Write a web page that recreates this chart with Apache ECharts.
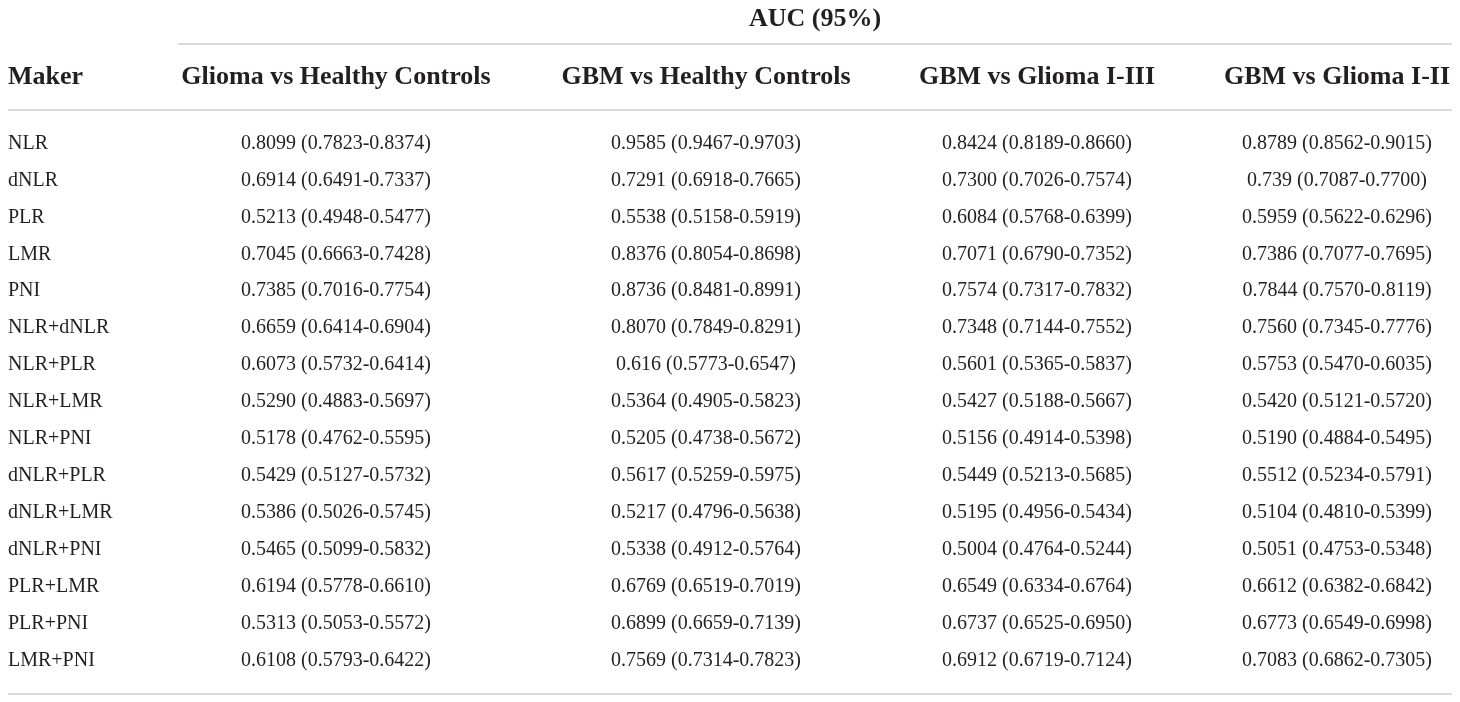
<!DOCTYPE html>
<html>
<head>
<meta charset="utf-8">
<title>AUC (95%)</title>
<script src="https://cdn.jsdelivr.net/npm/echarts@6/dist/echarts.min.js"></script>
<style>
    html, body { margin: 0; padding: 0; background: #fff; }
    #main { width: 1460px; height: 702px; }
</style>
</head>
<body>
<div id="main"></div>
<script>
// row labels
var makers = ['NLR', 'dNLR', 'PLR', 'LMR', 'PNI', 'NLR+dNLR', 'NLR+PLR', 'NLR+LMR', 'NLR+PNI',
    'dNLR+PLR', 'dNLR+LMR', 'dNLR+PNI', 'PLR+LMR', 'PLR+PNI', 'LMR+PNI'];
// column headers
var comparisons = ['Glioma vs Healthy Controls', 'GBM vs Healthy Controls', 'GBM vs Glioma I-III', 'GBM vs Glioma I-II'];

// AUC (95% CI) per column
var gliomaVsHC = ['0.8099 (0.7823-0.8374)', '0.6914 (0.6491-0.7337)', '0.5213 (0.4948-0.5477)', '0.7045 (0.6663-0.7428)',
    '0.7385 (0.7016-0.7754)', '0.6659 (0.6414-0.6904)', '0.6073 (0.5732-0.6414)', '0.5290 (0.4883-0.5697)',
    '0.5178 (0.4762-0.5595)', '0.5429 (0.5127-0.5732)', '0.5386 (0.5026-0.5745)', '0.5465 (0.5099-0.5832)',
    '0.6194 (0.5778-0.6610)', '0.5313 (0.5053-0.5572)', '0.6108 (0.5793-0.6422)'];
var gbmVsHC = ['0.9585 (0.9467-0.9703)', '0.7291 (0.6918-0.7665)', '0.5538 (0.5158-0.5919)', '0.8376 (0.8054-0.8698)',
    '0.8736 (0.8481-0.8991)', '0.8070 (0.7849-0.8291)', '0.616 (0.5773-0.6547)', '0.5364 (0.4905-0.5823)',
    '0.5205 (0.4738-0.5672)', '0.5617 (0.5259-0.5975)', '0.5217 (0.4796-0.5638)', '0.5338 (0.4912-0.5764)',
    '0.6769 (0.6519-0.7019)', '0.6899 (0.6659-0.7139)', '0.7569 (0.7314-0.7823)'];
var gbmVsG13 = ['0.8424 (0.8189-0.8660)', '0.7300 (0.7026-0.7574)', '0.6084 (0.5768-0.6399)', '0.7071 (0.6790-0.7352)',
    '0.7574 (0.7317-0.7832)', '0.7348 (0.7144-0.7552)', '0.5601 (0.5365-0.5837)', '0.5427 (0.5188-0.5667)',
    '0.5156 (0.4914-0.5398)', '0.5449 (0.5213-0.5685)', '0.5195 (0.4956-0.5434)', '0.5004 (0.4764-0.5244)',
    '0.6549 (0.6334-0.6764)', '0.6737 (0.6525-0.6950)', '0.6912 (0.6719-0.7124)'];
var gbmVsG12 = ['0.8789 (0.8562-0.9015)', '0.739 (0.7087-0.7700)', '0.5959 (0.5622-0.6296)', '0.7386 (0.7077-0.7695)',
    '0.7844 (0.7570-0.8119)', '0.7560 (0.7345-0.7776)', '0.5753 (0.5470-0.6035)', '0.5420 (0.5121-0.5720)',
    '0.5190 (0.4884-0.5495)', '0.5512 (0.5234-0.5791)', '0.5104 (0.4810-0.5399)', '0.5051 (0.4753-0.5348)',
    '0.6612 (0.6382-0.6842)', '0.6773 (0.6549-0.6998)', '0.7083 (0.6862-0.7305)'];

var columns = [makers, gliomaVsHC, gbmVsHC, gbmVsG13, gbmVsG12];

// layout (px)
var colX = [8, 336, 706, 1037, 1337];
var FONT = '"Liberation Serif", "DejaVu Serif", serif';
var INK = '#231f20';
var RULE = '#cfcfcf';

var cells = [];
columns.forEach(function (col, c) {
    col.forEach(function (txt, r) {
        cells.push([c, r, txt]);
    });
});

var chart = echarts.init(document.getElementById('main'));

var headerText = [{
    type: 'text', x: 815, y: 19,
    style: { text: 'AUC (95%)', font: 'bold 26px ' + FONT, fill: INK, align: 'center', verticalAlign: 'middle' }
}, {
    type: 'text', x: colX[0], y: 77,
    style: { text: 'Maker', font: 'bold 26px ' + FONT, fill: INK, align: 'left', verticalAlign: 'middle' }
}];
comparisons.forEach(function (name, i) {
    headerText.push({
        type: 'text', x: colX[i + 1], y: 77,
        style: { text: name, font: 'bold 26px ' + FONT, fill: INK, align: 'center', verticalAlign: 'middle' }
    });
});

function rule(x1, x2, y) {
    return {
        type: 'line',
        shape: { x1: x1, y1: y, x2: x2, y2: y },
        style: { stroke: RULE, lineWidth: 1.5 }
    };
}

option = {
    backgroundColor: '#fff',
    animation: false,
    graphic: headerText.concat([
        rule(178, 1452, 44),
        rule(8, 1452, 110),
        rule(8, 1452, 694)
    ]),
    grid: { left: 0, right: 0, top: 125, height: 554 },
    xAxis: { type: 'value', min: 0, max: 1460, show: false },
    yAxis: { type: 'category', data: makers, inverse: true, show: false },
    series: [{
        type: 'custom',
        data: cells,
        renderItem: function (params, api) {
            var c = api.value(0);
            var r = api.value(1);
            var p = api.coord([colX[c], r]);
            return {
                type: 'text',
                x: p[0],
                y: p[1],
                style: {
                    text: cells[params.dataIndex][2],
                    font: '20px ' + FONT,
                    fill: INK,
                    align: c === 0 ? 'left' : 'center',
                    verticalAlign: 'middle'
                }
            };
        }
    }]
};
chart.setOption(option);
</script>
</body>
</html>
